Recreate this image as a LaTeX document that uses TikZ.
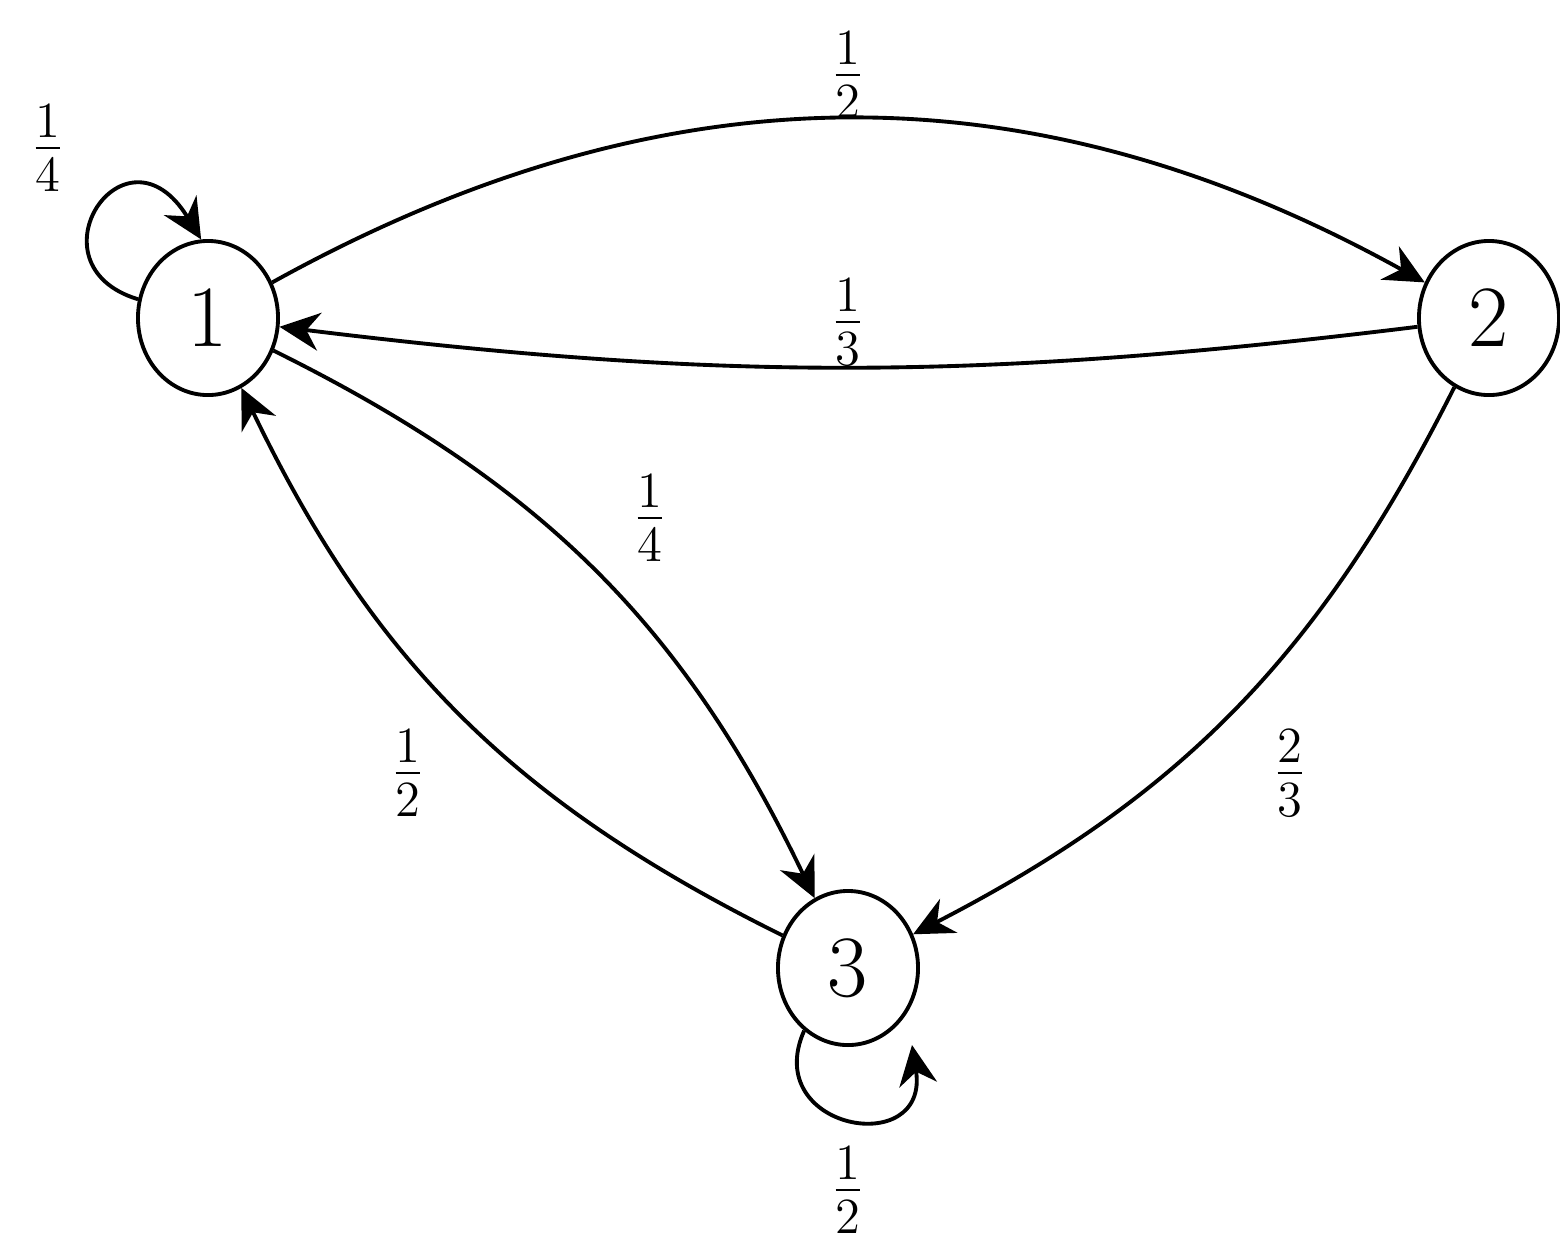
\documentclass[tikz,border=0pt]{standalone}
\usetikzlibrary{arrows.meta,shapes.geometric}
\begin{document}
\begin{tikzpicture}[x=0.01cm,y=-0.01cm,
  st/.style={draw,ellipse,line width=1.1pt,minimum width=1.4cm,minimum height=1.54cm,inner sep=0pt,font=\Huge},
  ed/.style={line width=1.1pt,-{Stealth[length=4mm,width=3.8mm]}},
  lb/.style={font=\huge}]
\useasboundingbox (0,0) rectangle (1560,1247);
\node[st] (n1) at (208,318) {$1$};
\node[st] (n2) at (1489,318) {$2$};
\node[st] (n3) at (848,968) {$3$};
\draw[ed] (n1) to[bend left=29] (n2);
\draw[ed] (n2) to[bend left=7] (n1);
\draw[ed] (n1) to[bend left=19] (n3);
\draw[ed] (n3) to[bend left=19] (n1);
\draw[ed] (n2) to[bend left=18] (n3);
\draw[ed] (n1.165) .. controls (25,265) and (125,115) .. (n1.95);
\draw[ed] (n3.235) .. controls (760,1130) and (930,1160) .. (912,1045);
\node[lb] (l12) at (848,75) {$\frac{1}{2}$};
\node[lb] (l21) at (848,322) {$\frac{1}{3}$};
\node[lb] (l13) at (650,518) {$\frac{1}{4}$};
\node[lb] (l31) at (408,773) {$\frac{1}{2}$};
\node[lb] (l23) at (1290,773) {$\frac{2}{3}$};
\node[lb] (l11) at (48,148) {$\frac{1}{4}$};
\node[lb] (l33) at (848,1190) {$\frac{1}{2}$};
\end{tikzpicture}
\end{document}
